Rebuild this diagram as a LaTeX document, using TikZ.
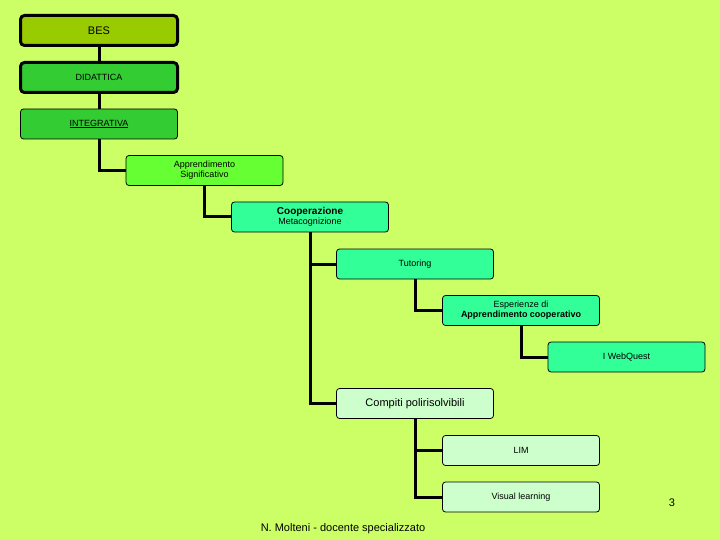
\documentclass[tikz,border=0pt]{standalone}
\usepackage{fontspec}
\setmainfont{Liberation Sans}
\begin{document}
\begin{tikzpicture}[x=1pt,y=-1pt,
  bx/.style={draw=black,rounded corners=3pt,line width=0.8pt,minimum width=157pt,minimum height=30pt,inner sep=0pt,align=center,font=\fontsize{9}{10}\selectfont},
  thk/.style={line width=3pt,rounded corners=4pt},
  con/.style={line width=3pt}]
\definecolor{bg}{HTML}{CCFF66}
\definecolor{c1}{HTML}{99CC00}
\definecolor{c2}{HTML}{33CC33}
\definecolor{c3}{HTML}{66FF33}
\definecolor{c4}{HTML}{33FF99}
\definecolor{c5}{HTML}{00EE88}
\definecolor{c6}{HTML}{CCFFCC}
\fill[bg] (0,0) rectangle (720,540);
\useasboundingbox (0,0) rectangle (720,540);
\node[bx,thk,fill=c1,font=\fontsize{11}{12}\selectfont] (bes) at (99,30.5) {BES};
\node[bx,thk,fill=c2,font=\fontsize{9}{10}\selectfont] (did) at (99,77.5) {DIDATTICA};
\node[bx,fill=c2] (int) at (99,124) {\underline{INTEGRATIVA}};
\node[bx,fill=c3] (app) at (204.5,170.5) {Apprendimento\\Significativo};
\node[bx,fill=c4] (coo) at (310,217) {\textbf{\fontsize{10}{11}\selectfont Cooperazione}\\Metacognizione};
\node[bx,fill=c4] (tut) at (415,264) {Tutoring};
\node[bx,fill=c4] (esp) at (521,310.5) {Esperienze di\\\textbf{Apprendimento cooperativo}};
\node[bx,fill=c4] (web) at (626.5,357) {I WebQuest};
\node[bx,fill=c6,font=\fontsize{11}{12}\selectfont] (com) at (415,403.5) {Compiti polirisolvibili};
\node[bx,fill=c6] (lim) at (521,450.5) {LIM};
\node[bx,fill=c6] (vis) at (521,497) {Visual learning};
\node[font=\fontsize{11}{12}\selectfont] (foot) at (343,529) {N. Molteni - docente specializzato};
\node[font=\fontsize{11}{12}\selectfont] (num) at (672,503) {3};
\begin{scope}[on background layer/.style={}]
\draw[con] (bes.south) -- (did.north);
\draw[con] (did.south) -- (int.north);
\draw[con] (int.south) |- (app.west);
\draw[con] (app.south) |- (coo.west);
\draw[con] (coo.south) |- (tut.west);
\draw[con] (coo.south) |- (com.west);
\draw[con] (tut.south) |- (esp.west);
\draw[con] (esp.south) |- (web.west);
\draw[con] (com.south) |- (lim.west);
\draw[con] (com.south) |- (vis.west);
\end{scope}
\end{tikzpicture}
\end{document}
